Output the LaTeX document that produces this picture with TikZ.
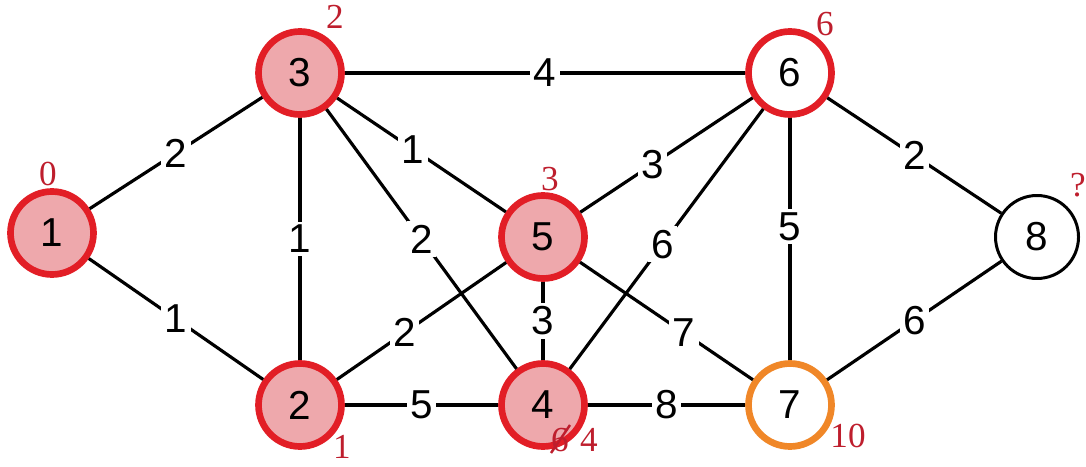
\documentclass[tikz,border=0pt]{standalone}
\usepackage{fontspec}
\setmainfont{Liberation Sans}
\newfontfamily\markfont{Liberation Serif}
\usetikzlibrary{positioning}
\definecolor{ringred}{RGB}{226,30,38}
\definecolor{fillpink}{RGB}{238,168,172}
\definecolor{ringorange}{RGB}{240,135,40}
\definecolor{markred}{RGB}{190,30,45}
\tikzset{
  vertex/.style={circle, minimum size=1.66cm, inner sep=0pt, line width=3.8pt,
    font=\fontsize{23}{27}\selectfont},
  visited/.style={vertex, draw=ringred, fill=fillpink},
  wt/.style={fill=white, inner sep=2pt, font=\fontsize{23}{27}\selectfont},
  dist/.style={text=markred, font=\markfont\fontsize{20}{24}\selectfont, inner sep=1pt},
  edge/.style={line width=1.8pt}
}
\begin{document}
\begin{tikzpicture}
  \useasboundingbox (0,0) rectangle (21.72,9.32);
  \node[visited] (n1) at (1.04,4.66) {1};
  \node[visited] (n3) at (6.0,7.86) {3};
  \node[visited] (n2) at (6.0,1.22) {2};
  \node[visited] (n5) at (10.86,4.58) {5};
  \node[visited] (n4) at (10.86,1.22) {4};
  \node[vertex, draw=ringred, fill=white] (n6) at (15.8,7.86) {6};
  \node[vertex, draw=ringorange, fill=white] (n7) at (15.8,1.22) {7};
  \node[vertex, draw=black, line width=1.7pt, fill=white] (n8) at (20.74,4.58) {8};

  \draw[edge] (n1) -- node[wt] {2} (n3);
  \draw[edge] (n1) -- node[wt] {1} (n2);
  \draw[edge] (n3) -- node[wt] {1} (n2);
  \draw[edge] (n3) -- node[wt] {4} (n6);
  \draw[edge] (n3) -- node[wt, pos=0.45] {1} (n5);
  \draw[edge] (n3) -- node[wt] {2} (n4);
  \draw[edge] (n2) -- node[wt, pos=0.4] {2} (n5);
  \draw[edge] (n2) -- node[wt] {5} (n4);
  \draw[edge] (n5) -- node[wt] {3} (n4);
  \draw[edge] (n5) -- node[wt, pos=0.42] {3} (n6);
  \draw[edge] (n4) -- node[wt, pos=0.48] {6} (n6);
  \draw[edge] (n5) -- node[wt, pos=0.6] {7} (n7);
  \draw[edge] (n4) -- node[wt] {8} (n7);
  \draw[edge] (n6) -- node[wt, pos=0.45] {5} (n7);
  \draw[edge] (n6) -- node[wt] {2} (n8);
  \draw[edge] (n7) -- node[wt] {6} (n8);

  \node[dist] (d1) at (0.96,5.84) {0};
  \node[dist] (d3) at (6.7,8.98) {2};
  \node[dist] (d2) at (6.84,0.38) {1};
  \node[dist] (d5) at (11.0,5.74) {3};
  \node[dist] (d4old) at (11.2,0.52) {6};
  \draw[markred, line width=1.4pt] ([shift={(-0.18,-0.26)}]d4old.center) -- ([shift={(0.2,0.3)}]d4old.center);
  \node[dist, right=0.14cm of d4old] (d4) {4};
  \node[dist] (d6) at (16.5,8.84) {6};
  \node[dist] (d7) at (16.96,0.6) {10};
  \node[dist] (d8) at (21.56,5.62) {?};
\end{tikzpicture}
\end{document}
